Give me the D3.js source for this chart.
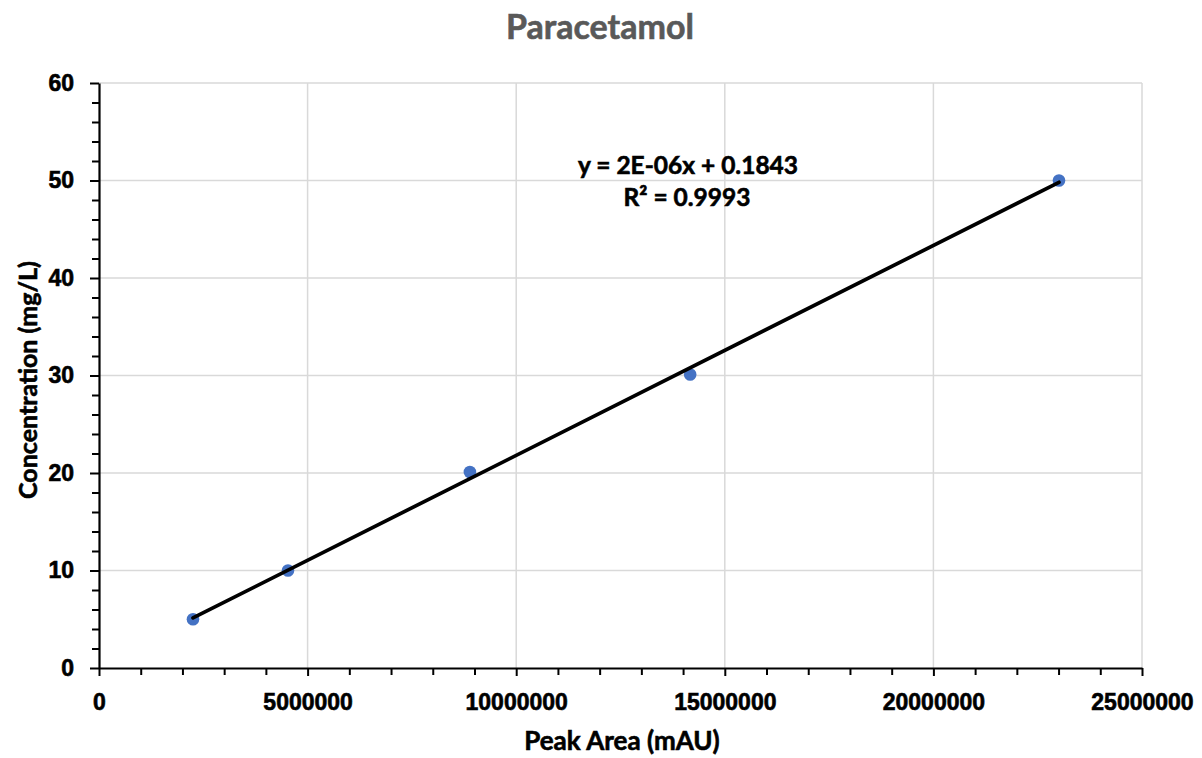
<!DOCTYPE html>
<html>
<head>
<meta charset="utf-8">
<script src="https://cdn.jsdelivr.net/npm/d3@7"></script>
<style>
  html, body { margin: 0; padding: 0; background: #fff; }
  svg { display: block; font-family: Lato, "Open Sans", sans-serif; }
  text.heavy { stroke-width: 0.6px; paint-order: stroke; }
</style>
</head>
<body>
<svg id="chart" width="1202" height="758"></svg>
<script>
// Calibration standards: peak area (mAU) vs concentration (mg/L)
const peakArea = [2253000, 4530000, 8890000, 14170000, 23010000];
const concentration = [5, 10, 20.1, 30.1, 50];

const xTicks = [0, 5000000, 10000000, 15000000, 20000000, 25000000];
const yTicks = [0, 10, 20, 30, 40, 50, 60];
const xMinorStep = 1000000;
const yMinorStep = 2;

const chartTitle = "Paracetamol";
const xTitle = "Peak Area (mAU)";
const yTitle = "Concentration (mg/L)";
const equationText = "y = 2E-06x + 0.1843";
const r2Text = "R² = 0.9993";

const svg = d3.select("#chart");
const plotLeft = 99, plotRight = 1142, plotTop = 83, plotBottom = 668;

const x = d3.scaleLinear().domain([0, 25000000]).range([plotLeft, plotRight]);
const y = d3.scaleLinear().domain([0, 60]).range([plotBottom, plotTop]);

// Gridlines
const grid = svg.append("g").attr("stroke", "#d9d9d9").attr("stroke-width", 1.5);
grid.selectAll("line.v").data(xTicks.slice(1)).join("line")
  .attr("class", "v")
  .attr("x1", d => x(d)).attr("x2", d => x(d))
  .attr("y1", plotTop).attr("y2", plotBottom);
grid.selectAll("line.h").data(yTicks.slice(1)).join("line")
  .attr("class", "h")
  .attr("x1", plotLeft).attr("x2", plotRight)
  .attr("y1", d => y(d)).attr("y2", d => y(d));

// Axes with minor ticks
const xMinor = d3.range(0, 25000000 + 1, xMinorStep).filter(v => !xTicks.includes(v));
const yMinor = d3.range(0, 60 + 0.001, yMinorStep).filter(v => !yTicks.includes(v));

const xAxisG = svg.append("g").attr("transform", `translate(0,${plotBottom})`);
xAxisG.append("g").call(d3.axisBottom(x).tickValues(xMinor).tickSize(7).tickFormat(""))
  .call(g => g.select(".domain").remove());
xAxisG.append("g").call(d3.axisBottom(x).tickValues(xTicks).tickSize(8).tickSizeOuter(0).tickPadding(18).tickFormat(d3.format("d")));

const yAxisG = svg.append("g").attr("transform", `translate(${plotLeft},0)`);
yAxisG.append("g").call(d3.axisLeft(y).tickValues(yMinor).tickSize(7).tickFormat(""))
  .call(g => g.select(".domain").remove());
yAxisG.append("g").call(d3.axisLeft(y).tickValues(yTicks).tickSize(9).tickSizeOuter(0).tickPadding(16).tickFormat(d3.format("d")));

svg.selectAll(".domain").attr("stroke", "#000").attr("stroke-width", 2.2);
svg.selectAll(".tick line").attr("stroke", "#000").attr("stroke-width", 2);
svg.selectAll(".tick text")
  .attr("class", "heavy")
  .attr("fill", "#000")
  .attr("stroke", "#000")
  .style("font-size", "23px")
  .style("font-weight", "bold");

// Linear regression trendline
const n = peakArea.length;
const mx = d3.mean(peakArea), my = d3.mean(concentration);
let sxy = 0, sxx = 0;
for (let i = 0; i < n; i++) {
  sxy += (peakArea[i] - mx) * (concentration[i] - my);
  sxx += (peakArea[i] - mx) ** 2;
}
const slope = sxy / sxx;
const intercept = my - slope * mx;
const [xMin, xMax] = d3.extent(peakArea);

// Points
svg.append("g").selectAll("circle")
  .data(peakArea.map((v, i) => [v, concentration[i]]))
  .join("circle")
  .attr("cx", d => x(d[0]))
  .attr("cy", d => y(d[1]))
  .attr("r", 6.3)
  .attr("fill", "#4472c4");

svg.append("line")
  .attr("x1", x(xMin)).attr("y1", y(slope * xMin + intercept))
  .attr("x2", x(xMax)).attr("y2", y(slope * xMax + intercept))
  .attr("stroke", "#000").attr("stroke-width", 3.7).attr("stroke-linecap", "round");

// Trendline equation
const eq = svg.append("g").attr("font-weight", "bold").attr("font-size", "24.5px")
  .attr("text-anchor", "middle").attr("fill", "#000").attr("stroke", "#000");
eq.append("text").attr("class", "heavy").attr("x", 688).attr("y", 174).text(equationText);
eq.append("text").attr("class", "heavy").attr("x", 687).attr("y", 206).text(r2Text);

// Titles
svg.append("text")
  .attr("class", "heavy")
  .attr("x", 600).attr("y", 39)
  .attr("text-anchor", "middle")
  .attr("font-size", "34px").attr("font-weight", "bold")
  .attr("fill", "#595959").attr("stroke", "#595959")
  .text(chartTitle);

svg.append("text")
  .attr("class", "heavy")
  .attr("x", 622).attr("y", 750)
  .attr("text-anchor", "middle")
  .attr("font-size", "26px").attr("font-weight", "bold")
  .attr("fill", "#000").attr("stroke", "#000")
  .text(xTitle);

svg.append("text")
  .attr("class", "heavy")
  .attr("transform", `translate(37,380) rotate(-90)`)
  .attr("text-anchor", "middle")
  .attr("font-size", "25px").attr("font-weight", "bold")
  .attr("fill", "#000").attr("stroke", "#000")
  .text(yTitle);
</script>
</body>
</html>
